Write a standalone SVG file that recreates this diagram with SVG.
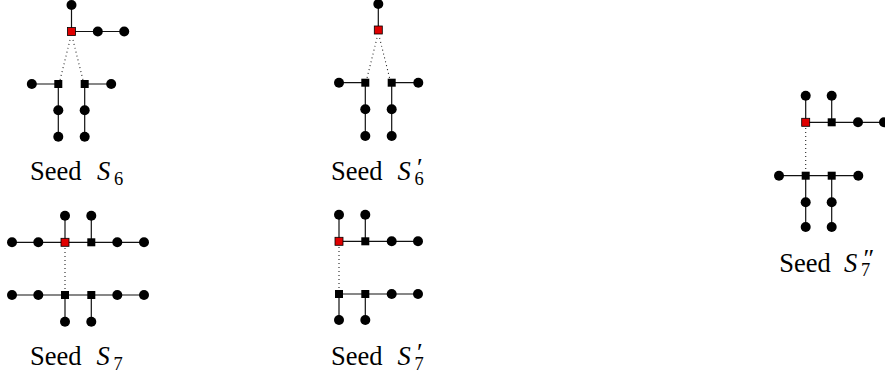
<svg xmlns="http://www.w3.org/2000/svg" width="885" height="381" viewBox="0 0 885 381">
<style>
.e{stroke:#111;stroke-width:1.2;fill:none}
.d{stroke:#222;stroke-width:1.1;fill:none;stroke-dasharray:1 3}
.c{fill:#000}
.s{fill:#000}
.r{fill:#e00000;stroke:#000;stroke-width:0.8}
.t{font-family:"Liberation Serif","DejaVu Serif",serif;font-size:26.5px;fill:#000}
.i{font-style:italic}
.sub{font-size:18.5px}
.pr{font-size:26px}
</style>
<defs>
<circle id="dot" r="5"/>
<rect id="sq" x="-4" y="-4" width="8" height="8"/>
</defs>
<g id="connectors">
<path class="e" d="M71.5,5V31.5H124.2M31.8,84H58.3V136.7M84.7,136.7V84H111.2"/>
<path class="d" d="M70,40L60,80M73,40L83,80"/>
<path class="e" d="M378.3,4V30M339,82.7H365.3V136M391.7,136V82.7H418.3"/>
<path class="d" d="M377,38L367,78M379.6,38L389.6,78"/>
<path class="e" d="M12,242.3H144M65,215.7V242.3M91.3,215.7V242.3M12,295H144M65,295V321.7M91.3,295V321.7"/>
<path class="d" d="M65,248V290"/>
<path class="e" d="M339,241.3H418M339,214.7V241.3M365.3,214.7V241.3M339,294H418M339,294V320M365.3,294V320"/>
<path class="d" d="M339,247V289"/>
<path class="e" d="M805.7,122.3H884M805.7,95.7V122.3M831.7,95.7V122.3M779,175.7H858.3M805.7,175.7V227M831.7,175.7V227"/>
<path class="d" d="M805.7,128V171"/>
</g>
<g id="s6-top" class="c"><use href="#dot" x="71.5" y="5"/></g>
<g id="s6-red" class="r"><use href="#sq" x="71.5" y="31.5"/></g>
<g id="s6-b1" class="c"><use href="#dot" x="97.8" y="31.5"/></g>
<g id="s6-b2" class="c"><use href="#dot" x="124.2" y="31.5"/></g>
<g id="s6-sqL" class="s"><use href="#sq" x="58.3" y="84"/></g>
<g id="s6-sqR" class="s"><use href="#sq" x="84.7" y="84"/></g>
<g id="s6-l" class="c"><use href="#dot" x="31.8" y="84"/></g>
<g id="s6-r" class="c"><use href="#dot" x="111.2" y="84"/></g>
<g id="s6-l1" class="c"><use href="#dot" x="58.3" y="110.3"/></g>
<g id="s6-l2" class="c"><use href="#dot" x="58.3" y="136.7"/></g>
<g id="s6-r1" class="c"><use href="#dot" x="84.7" y="110.3"/></g>
<g id="s6-r2" class="c"><use href="#dot" x="84.7" y="136.7"/></g>
<g id="s6p-top" class="c"><use href="#dot" x="378.3" y="4"/></g>
<g id="s6p-red" class="r"><use href="#sq" x="378.3" y="30"/></g>
<g id="s6p-sqL" class="s"><use href="#sq" x="365.3" y="82.7"/></g>
<g id="s6p-sqR" class="s"><use href="#sq" x="391.7" y="82.7"/></g>
<g id="s6p-l" class="c"><use href="#dot" x="339" y="82.7"/></g>
<g id="s6p-r" class="c"><use href="#dot" x="418.3" y="82.7"/></g>
<g id="s6p-l1" class="c"><use href="#dot" x="365.3" y="109.3"/></g>
<g id="s6p-l2" class="c"><use href="#dot" x="365.3" y="136"/></g>
<g id="s6p-r1" class="c"><use href="#dot" x="391.7" y="109.3"/></g>
<g id="s6p-r2" class="c"><use href="#dot" x="391.7" y="136"/></g>
<g id="s7-t1" class="c"><use href="#dot" x="12" y="242.3"/></g>
<g id="s7-t2" class="c"><use href="#dot" x="38.3" y="242.3"/></g>
<g id="s7-red" class="r"><use href="#sq" x="65" y="242.3"/></g>
<g id="s7-tsq" class="s"><use href="#sq" x="91.3" y="242.3"/></g>
<g id="s7-t3" class="c"><use href="#dot" x="117.3" y="242.3"/></g>
<g id="s7-t4" class="c"><use href="#dot" x="144" y="242.3"/></g>
<g id="s7-u1" class="c"><use href="#dot" x="65" y="215.7"/></g>
<g id="s7-u2" class="c"><use href="#dot" x="91.3" y="215.7"/></g>
<g id="s7-b1" class="c"><use href="#dot" x="12" y="295"/></g>
<g id="s7-b2" class="c"><use href="#dot" x="38.3" y="295"/></g>
<g id="s7-bsq1" class="s"><use href="#sq" x="65" y="295"/></g>
<g id="s7-bsq2" class="s"><use href="#sq" x="91.3" y="295"/></g>
<g id="s7-b3" class="c"><use href="#dot" x="117.3" y="295"/></g>
<g id="s7-b4" class="c"><use href="#dot" x="144" y="295"/></g>
<g id="s7-d1" class="c"><use href="#dot" x="65" y="321.7"/></g>
<g id="s7-d2" class="c"><use href="#dot" x="91.3" y="321.7"/></g>
<g id="s7p-red" class="r"><use href="#sq" x="339" y="241.3"/></g>
<g id="s7p-tsq" class="s"><use href="#sq" x="365.3" y="241.3"/></g>
<g id="s7p-t1" class="c"><use href="#dot" x="391.7" y="241.3"/></g>
<g id="s7p-t2" class="c"><use href="#dot" x="418" y="241.3"/></g>
<g id="s7p-u1" class="c"><use href="#dot" x="339" y="214.7"/></g>
<g id="s7p-u2" class="c"><use href="#dot" x="365.3" y="214.7"/></g>
<g id="s7p-bsq1" class="s"><use href="#sq" x="339" y="294"/></g>
<g id="s7p-bsq2" class="s"><use href="#sq" x="365.3" y="294"/></g>
<g id="s7p-b1" class="c"><use href="#dot" x="391.7" y="294"/></g>
<g id="s7p-b2" class="c"><use href="#dot" x="418" y="294"/></g>
<g id="s7p-d1" class="c"><use href="#dot" x="339" y="320"/></g>
<g id="s7p-d2" class="c"><use href="#dot" x="365.3" y="320"/></g>
<g id="s7pp-red" class="r"><use href="#sq" x="805.7" y="122.3"/></g>
<g id="s7pp-tsq" class="s"><use href="#sq" x="831.7" y="122.3"/></g>
<g id="s7pp-t1" class="c"><use href="#dot" x="858" y="122.3"/></g>
<g id="s7pp-t2" class="c"><use href="#dot" x="884" y="122.3"/></g>
<g id="s7pp-u1" class="c"><use href="#dot" x="805.7" y="95.7"/></g>
<g id="s7pp-u2" class="c"><use href="#dot" x="831.7" y="95.7"/></g>
<g id="s7pp-b1" class="c"><use href="#dot" x="779" y="175.7"/></g>
<g id="s7pp-bsq1" class="s"><use href="#sq" x="805.7" y="175.7"/></g>
<g id="s7pp-bsq2" class="s"><use href="#sq" x="831.7" y="175.7"/></g>
<g id="s7pp-b2" class="c"><use href="#dot" x="858.3" y="175.7"/></g>
<g id="s7pp-d1" class="c"><use href="#dot" x="805.7" y="202.3"/></g>
<g id="s7pp-d2" class="c"><use href="#dot" x="805.7" y="227"/></g>
<g id="s7pp-d3" class="c"><use href="#dot" x="831.7" y="202.3"/></g>
<g id="s7pp-d4" class="c"><use href="#dot" x="831.7" y="227"/></g>
<g id="labels">
<text class="t" x="30" y="180">Seed <tspan class="i" x="97">S</tspan><tspan class="sub" x="114" y="184.5">6</tspan></text>
<text class="t" x="331" y="180">Seed <tspan class="i" x="397.5">S</tspan><tspan class="pr" x="417" y="175.5">′</tspan><tspan class="sub" x="414.5" y="184.5">6</tspan></text>
<text class="t" x="30" y="365">Seed <tspan class="i" x="96.5">S</tspan><tspan class="sub" x="113.5" y="369.5">7</tspan></text>
<text class="t" x="331" y="365">Seed <tspan class="i" x="397.5">S</tspan><tspan class="pr" x="417" y="360.5">′</tspan><tspan class="sub" x="414.5" y="369.5">7</tspan></text>
<text class="t" x="779.3" y="271.5">Seed <tspan class="i" x="844">S</tspan><tspan class="pr" x="863.5" y="267">″</tspan><tspan class="sub" x="861" y="276">7</tspan></text>
</g>
</svg>
